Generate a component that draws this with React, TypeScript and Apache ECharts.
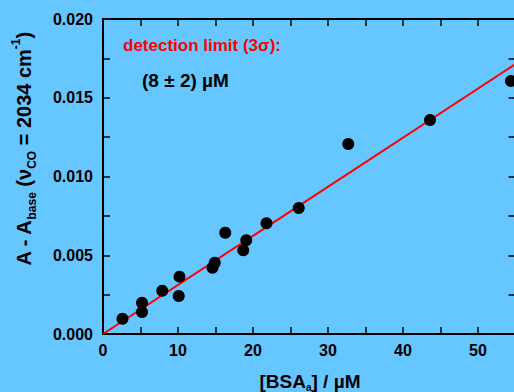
import React, { useEffect, useRef } from "react";
import * as echarts from "echarts";

const bsaConc = [2.6, 5.2, 5.2, 7.9, 10.2, 10.1, 14.6, 14.9, 16.3, 18.7, 19.1, 21.8, 26.1, 32.7, 43.6, 54.4];
const absorbance = [0.00097, 0.00199, 0.0014, 0.00275, 0.00364, 0.00241, 0.00421, 0.00453, 0.00643, 0.00531, 0.00595, 0.00703, 0.0080, 0.01206, 0.01359, 0.01606];
const fitX = [0, 55];
const fitY = [0, 0.01714];
const xTicks = { min: 0, max: 55, interval: 5 };
const yTicks = { min: 0, max: 0.02, interval: 0.0025 };

const FONT = "Liberation Sans, Arial, sans-serif";

export default function App() {
  const ref = useRef<HTMLDivElement>(null);
  useEffect(() => {
    document.body.style.margin = "0";
    const chart = echarts.init(ref.current!, null, { renderer: "svg" });
    const axisCommon = {
      axisLine: { show: true, onZero: false, lineStyle: { color: "#000", width: 2 } },
      axisTick: { show: true, inside: true, length: 7, lineStyle: { color: "#000", width: 1.5 } },
      splitLine: { show: false },
    };
    chart.setOption({
      animation: false,
      backgroundColor: "#66c6ff",
      grid: { left: 103, top: 19, width: 412.5, height: 315, outerBoundsMode: "none", containLabel: false },
      xAxis: [
        {
          type: "value",
          position: "bottom",
          ...xTicks,
          ...axisCommon,
          axisLabel: {
            interval: 1,
            margin: 8,
            color: "#000",
            fontSize: 16,
            fontWeight: "bold",
            fontFamily: FONT,
            formatter: (v: number) => (v % 10 === 0 && v <= 50 ? String(v) : ""),
          },
        },
        {
          type: "value",
          position: "top",
          ...xTicks,
          ...axisCommon,
          axisLabel: { show: false },
        },
      ],
      yAxis: [
        {
          type: "value",
          position: "left",
          ...yTicks,
          ...axisCommon,
          axisLabel: {
            margin: 10,
            color: "#000",
            fontSize: 16,
            fontWeight: "bold",
            fontFamily: FONT,
            formatter: (v: number) => {
              const r = Math.round(v / 0.0025);
              return r % 2 === 0 ? v.toFixed(3) : "";
            },
          },
        },
        {
          type: "value",
          position: "right",
          ...yTicks,
          ...axisCommon,
          axisLabel: { show: false },
        },
      ],
      series: [
        {
          type: "line",
          data: fitX.map((x, i) => [x, fitY[i]]),
          symbol: "none",
          lineStyle: { color: "#ff0000", width: 2 },
          clip: true,
          z: 2,
        },
        {
          type: "scatter",
          data: bsaConc.map((x, i) => [x, absorbance[i]]),
          symbol: "circle",
          symbolSize: 12,
          itemStyle: { color: "#000", opacity: 1 },
          clip: false,
          z: 3,
        },
      ],
      graphic: [
        {
          type: "text",
          x: 24,
          y: 149,
          rotation: Math.PI / 2,
          style: {
            text: "{a|A - A}{sub|base}{a| (ν}{sub|CO}{a| = 2034 cm}{sup|-1}{a|)}",
            align: "center",
            verticalAlign: "middle",
            fill: "#000",
            rich: {
              a: { fontSize: 20, fontWeight: "bold", fontFamily: FONT, fill: "#000", lineHeight: 28, verticalAlign: "middle" },
              sub: { fontSize: 12, fontWeight: "bold", fontFamily: FONT, fill: "#000", lineHeight: 28, verticalAlign: "bottom" },
              sup: { fontSize: 12, fontWeight: "bold", fontFamily: FONT, fill: "#000", lineHeight: 28, verticalAlign: "top" },
            },
          },
        },
        {
          type: "text",
          x: 310,
          y: 381,
          style: {
            text: "{a|[BSA}{sub|a}{a|] / µM}",
            align: "center",
            verticalAlign: "middle",
            fill: "#000",
            rich: {
              a: { fontSize: 19, fontWeight: "bold", fontFamily: FONT, fill: "#000", lineHeight: 22, verticalAlign: "middle" },
              sub: { fontSize: 10, fontWeight: "bold", fontFamily: FONT, fill: "#000", lineHeight: 22, verticalAlign: "bottom" },
            },
          },
        },
        {
          type: "text",
          x: 123,
          y: 45,
          style: {
            text: "detection limit (3σ):",
            fill: "#ff0000",
            fontSize: 17,
            fontWeight: "bold",
            fontFamily: FONT,
            verticalAlign: "middle",
          },
        },
        {
          type: "text",
          x: 142,
          y: 80,
          style: {
            text: "(8 ± 2) µM",
            fill: "#000",
            fontSize: 19,
            fontWeight: "bold",
            fontFamily: FONT,
            verticalAlign: "middle",
          },
        },
      ],
    });
    return () => chart.dispose();
  }, []);
  return <div ref={ref} style={{ width: 514, height: 392 }} />;
}
